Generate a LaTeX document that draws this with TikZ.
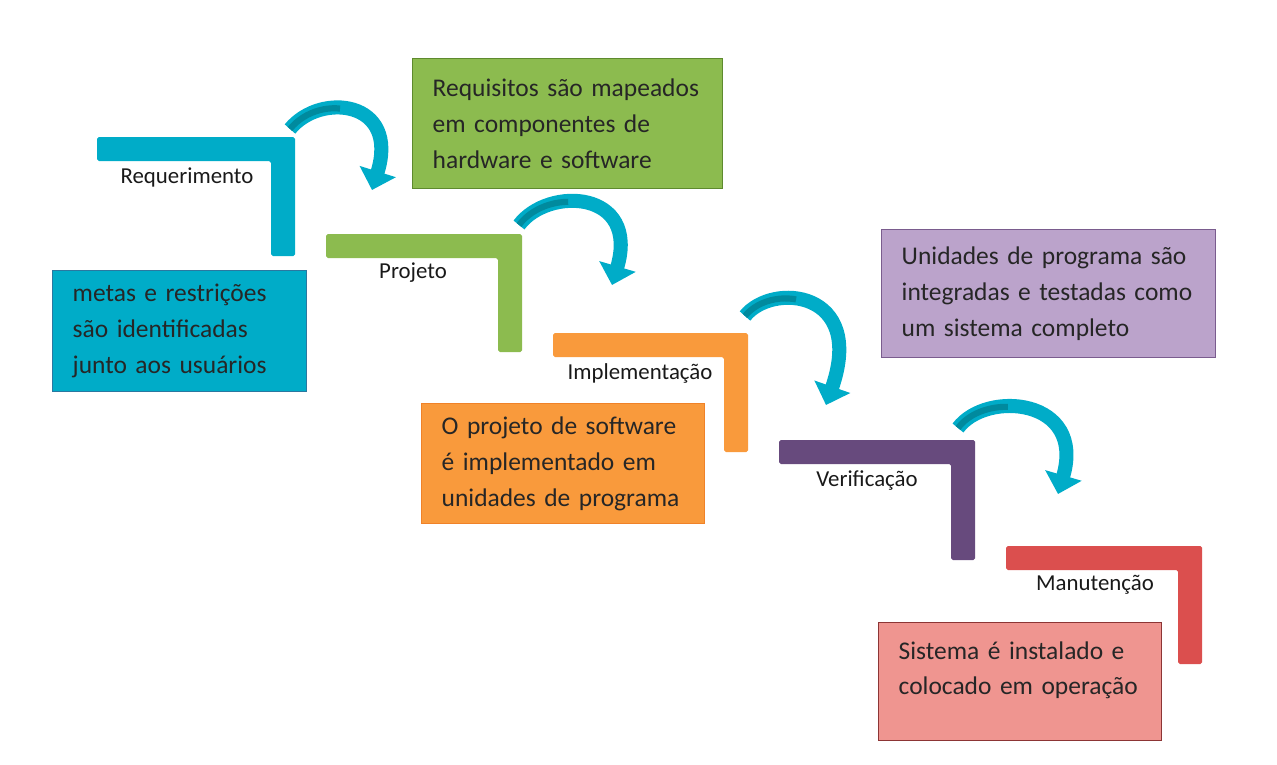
\documentclass[tikz,border=0pt]{standalone}
\usepackage{fontspec}
\setmainfont{Carlito}
\usetikzlibrary{arrows.meta}

\definecolor{reqcyan}{HTML}{00ACC8}
\definecolor{reqedge}{HTML}{2A78A0}
\definecolor{progreen}{HTML}{8CBB4F}
\definecolor{proedge}{HTML}{5E8A2E}
\definecolor{imporange}{HTML}{F99A3C}
\definecolor{impedge}{HTML}{F08228}
\definecolor{verpurple}{HTML}{674A7D}
\definecolor{verlight}{HTML}{BBA3CB}
\definecolor{veredge}{HTML}{7A5C8E}
\definecolor{manred}{HTML}{DB4F4E}
\definecolor{manpink}{HTML}{EF9590}
\definecolor{manedge}{HTML}{8C3535}
\definecolor{turndark}{HTML}{008A9E}

\tikzset{
  stepbar/.style={rounded corners=1pt},
  steplabel/.style={font=\fontsize{13}{15}\selectfont, text=black!90},
  infobox/.style={anchor=north west, draw, line width=0.8pt, align=left,
    inner xsep=0.4cm, inner ysep=0pt,
    font=\fontsize{14.5}{20.4}\selectfont, text=black!85},
  turn/.style={draw=reqcyan, line width=8pt,
    -{Triangle[length=11pt,width=21pt]},
    postaction={draw=turndark, line width=3.5pt, dash pattern=on 32pt off 400pt, -}}
}

\begin{document}
\begin{tikzpicture}[x=0.02cm, y=-0.02cm]
\useasboundingbox (0,0) rectangle (1277,764);

% Steps
\fill[stepbar, reqcyan] (97,137) -| ++(198,119) -- ++(-24,0) |- ++(-174,-95) -- cycle;
\fill[stepbar, progreen] (326,234) -| ++(196,118) -- ++(-24,0) |- ++(-172,-94) -- cycle;
\fill[stepbar, imporange] (553,333) -| ++(195,119) -- ++(-24,0) |- ++(-171,-95) -- cycle;
\fill[stepbar, verpurple] (779,440) -| ++(196,120) -- ++(-24,0) |- ++(-172,-96) -- cycle;
\fill[stepbar, manred] (1006,546) -| ++(196,118) -- ++(-24,0) |- ++(-172,-94) -- cycle;

% Step names
\node[steplabel] (reqLabel) at (187,177) {Requerimento};
\node[steplabel] (proLabel) at (413,273) {Projeto};
\node[steplabel] (impLabel) at (640,373) {Implementação};
\node[steplabel] (verLabel) at (867,481) {Verificação};
\node[steplabel] (manLabel) at (1095,585) {Manutenção};

% Descriptions
\node[infobox, fill=reqcyan, draw=reqedge, text width=4.28cm, minimum height=2.42cm]
  (reqBox) at (52,270) {metas e restrições\\são identificadas\\junto aos usuários};
\node[infobox, fill=progreen, draw=proedge, text width=5.4cm, minimum height=2.6cm]
  (proBox) at (412,58) {Requisitos são mapeados\\em componentes de\\hardware e software};
\node[infobox, fill=imporange, draw=impedge, text width=4.86cm, minimum height=2.4cm]
  (impBox) at (421,403) {O projeto de software\\é implementado em\\unidades de programa};
\node[infobox, fill=verlight, draw=veredge, text width=5.88cm, minimum height=2.56cm]
  (verBox) at (881,229) {Unidades de programa são\\integradas e testadas como\\um sistema completo};
\node[infobox, fill=manpink, draw=manedge, text width=4.86cm, minimum height=2.36cm]
  (manBox) at (878,622) {Sistema é instalado e\\colocado em operação\par\vspace*{13pt}};

% Turning arrows
\coordinate (reqTurn) at (290,129);
\coordinate (proIn) at (372,190);
\coordinate (proTurn) at (519,225);
\coordinate (impIn) at (612,285);
\coordinate (impTurn) at (745,316);
\coordinate (verIn) at (826,405);
\coordinate (verTurn) at (958,428);
\coordinate (manIn) at (1058,494);

\draw[turn] (reqTurn) .. controls (320,92) and (400,100) .. (proIn);
\draw[turn] (proTurn) .. controls (548,186) and (640,190) .. (impIn);
\draw[turn] (impTurn) .. controls (772,282) and (866,290) .. (verIn);
\draw[turn] (verTurn) .. controls (986,390) and (1086,398) .. (manIn);
\end{tikzpicture}
\end{document}
